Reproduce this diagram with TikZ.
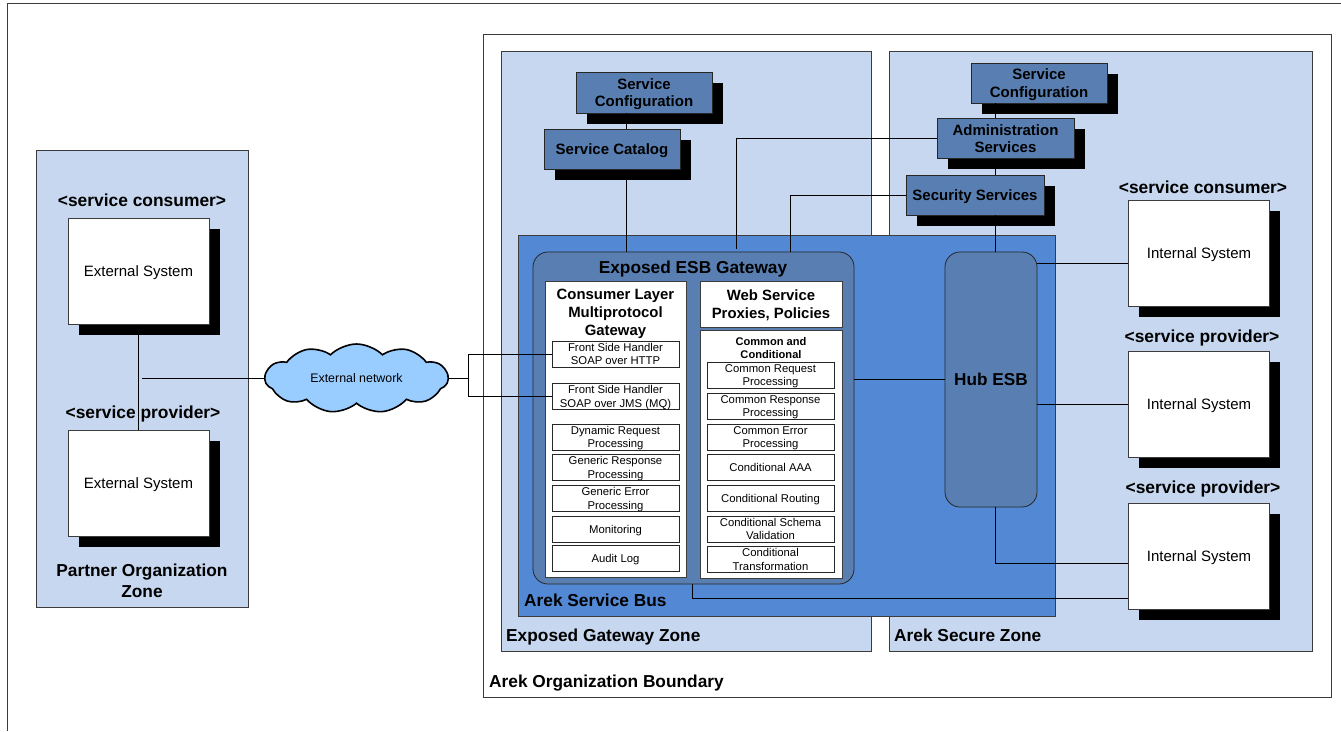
\documentclass[tikz,border=0pt]{standalone}
\usepackage{fontspec}
\setmainfont{Liberation Sans}
\usetikzlibrary{shapes.symbols, shadows}
\definecolor{zonefill}{RGB}{198,215,239}
\definecolor{busfill}{RGB}{82,136,212}
\definecolor{darkfill}{RGB}{89,127,178}
\definecolor{cloudfill}{RGB}{153,204,255}
\definecolor{edgegray}{RGB}{60,60,60}
\tikzset{
    zone/.style={draw=edgegray, line width=0.8pt, fill=zonefill, inner sep=0pt},
    roundbox/.style={draw=black!85, line width=0.8pt, fill=darkfill, rounded corners=15pt, inner sep=0pt},
    darkbox/.style={draw=black!85, line width=0.8pt, fill=darkfill, inner sep=0pt, align=center, text depth=0pt,
        font=\fontsize{15}{17.5}\selectfont\bfseries,
        general shadow={fill=black, shadow xshift=10.5pt, shadow yshift=-10.5pt}},
    sysbox/.style={draw=edgegray, line width=0.8pt, fill=white, inner sep=0pt, text depth=0pt,
        minimum width=141pt, minimum height=106pt, font=\fontsize{15}{17}\selectfont,
        general shadow={fill=black, shadow xshift=10.5pt, shadow yshift=-10.5pt}},
    panel/.style={draw=edgegray, line width=0.8pt, fill=white, inner sep=0pt},
    smallbox/.style={draw=black!85, line width=0.7pt, fill=white, inner sep=0pt, align=center, text depth=0pt,
        minimum width=127pt, minimum height=26pt, font=\fontsize{11.3}{13.6}\selectfont},
    title/.style={inner sep=0pt, align=center, font=\fontsize{17.3}{21}\selectfont\bfseries},
    rolelabel/.style={inner sep=0pt, text depth=0pt, font=\fontsize{17.4}{20}\selectfont\bfseries},
    heading/.style={inner sep=0pt, align=center, text depth=0pt, font=\fontsize{14.9}{18}\selectfont\bfseries},
    link/.style={draw=black, line width=0.8pt}
}
\begin{document}
\begin{tikzpicture}[x=1pt, y=-1pt]
            \useasboundingbox (0,0) rectangle (1341,731);
            % Frame
            \coordinate (frametr) at (1341,3);
            \coordinate (frametl) at (7.5,3);
            \coordinate (framebl) at (7.5,731);
            \draw[draw=edgegray, line width=0.9pt] (frametr) -- (frametl) -- (framebl);
            % Zones
            \node[zone, fill=white, minimum width=848pt, minimum height=663pt] (orgboundary) at (907.5,365.5) {};
            \node[zone, minimum width=212pt, minimum height=457pt] (partnerzone) at (142,378.5) {};
            \node[zone, minimum width=370pt, minimum height=600pt] (exposedzone) at (686,351.5) {};
            \node[zone, minimum width=423pt, minimum height=600pt] (securezone) at (1100.5,351.5) {};
            \node[zone, fill=busfill, minimum width=537pt, minimum height=381pt] (servicebus) at (786.5,425.5) {};
            \node[roundbox, minimum width=321pt, minimum height=332pt] (gateway) at (693.5,418) {};
            \node[roundbox, minimum width=92pt, minimum height=255pt, font=\fontsize{17.2}{20}\selectfont\bfseries] (hub) at (991,379.5) {Hub ESB};
            % Zone titles
            \node[title, anchor=base west] (orgtitle) at (489,687) {Arek Organization Boundary};
            \node[title, anchor=base west] (exposedtitle) at (506,641) {Exposed Gateway Zone};
            \node[title, anchor=base west] (securetitle) at (894,641) {Arek Secure Zone};
            \node[title, anchor=base west] (bustitle) at (524,606) {Arek Service Bus};
            \node[title, text depth=0pt] (gatewaytitle) at (693,267.5) {Exposed ESB Gateway};
            \node[title] (partnertitle) at (142,581) {Partner Organization\\Zone};
            % Service boxes
            \node[darkbox, minimum width=136pt, minimum height=41pt] (configleft) at (644,92.5) {Service\\Configuration};
            \node[darkbox, minimum width=136pt, minimum height=40pt] (catalog) at (612,149.5) {Service Catalog};
            \node[darkbox, minimum width=136pt, minimum height=40pt] (configright) at (1039,83) {Service\\Configuration};
            \node[darkbox, minimum width=137pt, minimum height=40pt] (admin) at (1005.5,138.5) {Administration\\Services};
            \node[darkbox, minimum width=138pt, minimum height=40pt] (security) at (975,195) {Security Services};
            % Systems
            \node[sysbox] (external1) at (138.5,271.5) {External System};
            \node[sysbox] (external2) at (138.5,483) {External System};
            \node[sysbox] (internal1) at (1199,253) {Internal System};
            \node[sysbox] (internal2) at (1199,404) {Internal System};
            \node[sysbox] (internal3) at (1199,556) {Internal System};
            \node[cloud, draw=black, line width=1.6pt, fill=cloudfill, cloud puffs=11, cloud puff arc=90, aspect=2.6,
                inner sep=0pt, minimum width=183pt, minimum height=69pt, font=\fontsize{12.4}{14}\selectfont] (extnet) at (356.5,378.5) {External network};
            % Panels
            \node[panel, minimum width=141pt, minimum height=296pt] (consumerpanel) at (615.5,429) {};
            \node[panel, minimum width=142pt, minimum height=46pt] (webpanel) at (771,304) {};
            \node[panel, minimum width=142pt, minimum height=248pt] (commonpanel) at (771,454) {};
            \node[heading] (consumertitle) at (615.5,312.5) {Consumer Layer\\Multiprotocol\\Gateway};
            \node[heading] (webtitle) at (771,304) {Web Service\\Proxies, Policies};
            \node[inner sep=0pt, align=center, font=\fontsize{11.1}{13}\selectfont\bfseries] (commontitle) at (771,348) {Common and\\Conditional};
            % Left column
            \node[smallbox] (fshttp) at (615.5,354) {Front Side Handler\\SOAP over HTTP};
            \node[smallbox] (fsjms) at (615.5,396.5) {Front Side Handler\\SOAP over JMS (MQ)};
            \node[smallbox] (dynreq) at (615.5,437) {Dynamic Request\\Processing};
            \node[smallbox] (genresp) at (615.5,467.5) {Generic Response\\Processing};
            \node[smallbox] (generr) at (615.5,498.5) {Generic Error\\Processing};
            \node[smallbox] (monitor) at (615.5,529) {Monitoring};
            \node[smallbox] (audit) at (615.5,558.5) {Audit Log};
            % Right column
            \node[smallbox] (comreq) at (770.5,375) {Common Request\\Processing};
            \node[smallbox] (comresp) at (770.5,406) {Common Response\\Processing};
            \node[smallbox] (comerr) at (770.5,437) {Common Error\\Processing};
            \node[smallbox] (condaaa) at (770.5,467) {Conditional AAA};
            \node[smallbox] (condrout) at (770.5,498) {Conditional Routing};
            \node[smallbox] (condschema) at (770.5,529) {Conditional Schema\\Validation};
            \node[smallbox] (condtrans) at (770.5,559.5) {Conditional\\Transformation};
            % Role labels
            \node[rolelabel] (roleext1) at (142,200) {<service consumer>};
            \node[rolelabel] (roleext2) at (143,412) {<service provider>};
            \node[rolelabel] (roleint1) at (1203,187) {<service consumer>};
            \node[rolelabel] (roleint2) at (1202,336) {<service provider>};
            \node[rolelabel] (roleint3) at (1203,487) {<service provider>};
            % Helper points
            \coordinate (partnerjoin) at (142,378.5);
            \coordinate (busjoin) at (468,378.5);
            \coordinate (catalogdrop) at (626,252);
            \coordinate (admindrop) at (736.5,249);
            \coordinate (securitydrop) at (790,252);
            \coordinate (hubdrop) at (995,252);
            \coordinate (busdrop) at (692,584);
            % Arrows
            \draw[link] (external1) -- (external2);
            \draw[link] (partnerjoin) -- (extnet);
            \draw[link] (extnet) -- (busjoin);
            \draw[link] (fshttp.west) -| (busjoin);
            \draw[link] (fsjms.west) -| (busjoin);
            \draw[link] (configleft.south -| catalogdrop) -- (catalog.north -| catalogdrop);
            \draw[link] (catalog.south -| catalogdrop) -- (catalogdrop);
            \draw[link] (admindrop) |- (admin.west);
            \draw[link] (securitydrop) |- (security.west);
            \draw[link] (configright.south -| hubdrop) -- (admin.north -| hubdrop);
            \draw[link] (admin.south -| hubdrop) -- (security.north -| hubdrop);
            \draw[link] (security.south -| hubdrop) -- (hubdrop);
            \draw[link] (gateway.east |- hub) -- (hub.west);
            \draw[link] (hub.east |- 0,263.5) -- (internal1.west |- 0,263.5);
            \draw[link] (hub.east |- internal2) -- (internal2.west);
            \draw[link] (hub.south -| hubdrop) |- (internal3.west |- 0,563.5);
            \draw[link] (busdrop) |- (internal3.west |- 0,598.5);
        \end{tikzpicture}
\end{document}
